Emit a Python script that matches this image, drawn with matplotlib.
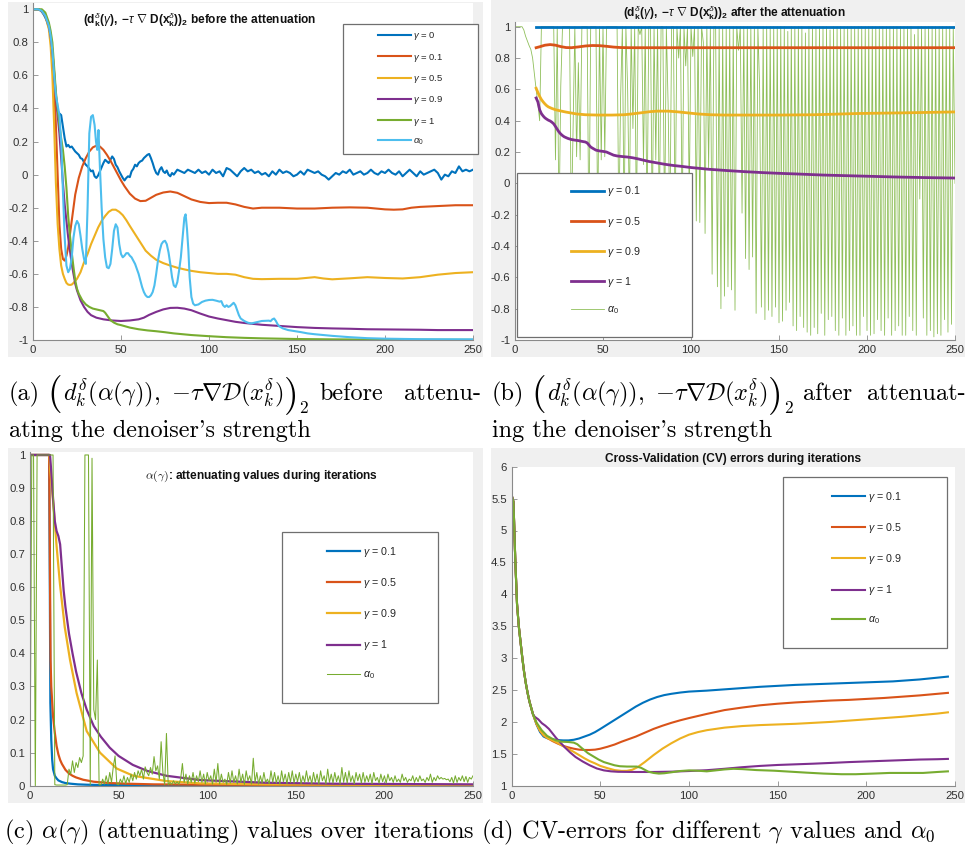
import matplotlib
matplotlib.use('Agg')
import matplotlib.pyplot as plt
from matplotlib.patches import Rectangle

W, H = 967, 850

# ---------------- shared ticks ----------------
xticks = [0, 50, 100, 150, 200, 250]
yticks_ab = [-1, -0.8, -0.6, -0.4, -0.2, 0, 0.2, 0.4, 0.6, 0.8, 1]
yticks_c = [0, 0.1, 0.2, 0.3, 0.4, 0.5, 0.6, 0.7, 0.8, 0.9, 1]
yticks_d = [1, 1.5, 2, 2.5, 3, 3.5, 4, 4.5, 5, 5.5, 6]

# ---------------- panel (a) ----------------
a_labels = [r'$\gamma$ = 0', r'$\gamma$ = 0.1', r'$\gamma$ = 0.5', r'$\gamma$ = 0.9', r'$\gamma$ = 1', r'$\alpha_0$']
a_blue_head = [1, 1, 1, 1, 0.995, 0.985, 0.97, 0.95, 0.925, 0.89,
               0.84, 0.72, 0.57, 0.46, 0.385, 0.37, 0.36, 0.29, 0.22, 0.17,
               0.18, 0.165, 0.17, 0.155, 0.14, 0.13, 0.12, 0.1, 0.095, 0.075,
               0.06, 0.05, 0.035, 0.02, 0.025, -0.01, -0.02, -0.005, 0.02, 0.045,
               0.07, 0.09, 0.08, 0.07, 0.09, 0.11, 0.095, 0.06, 0.045, 0.02,
               0.0, -0.02, -0.035, -0.02, -0.01, -0.015, 0.02, 0.035, 0.06, 0.05,
               0.07, 0.08, 0.085, 0.1, 0.11, 0.12, 0.125, 0.1, 0.07, 0.035,
               0.01, 0.0, 0.03, 0.045, 0.02, 0.01, 0.025, 0.0, -0.01, 0.01]
a_blue_tail = [0.0, 0.03, 0.02, 0.01, 0.03, 0.02, 0.01, 0.03, 0.01, 0.02,
               0.0, 0.03, 0.01, 0.02, -0.01, 0.04, 0.03, 0.01, -0.01, 0.02,
               0.04, 0.02, 0.03, 0.01, 0.02, 0.0, 0.01, -0.01, 0.02, 0.0,
               0.03, 0.01, 0.02, 0.01, -0.01, 0.0, 0.02, 0.0, 0.03, 0.02,
               0.01, 0.02, 0.0, -0.01, -0.03, -0.01, 0.01, 0.0, 0.02, 0.01,
               0.03, 0.0, 0.01, 0.02, 0.0, 0.01, 0.03, 0.01, 0.0, 0.02,
               0.01, 0.03, 0.01, 0.0, 0.02, -0.01, 0.01, 0.03, 0.01, -0.01,
               0.02, 0.0, 0.01, 0.02, 0.03, 0.01, -0.03, 0.0, -0.01, 0.02,
               0.01, 0.05, 0.02, 0.03, 0.02, 0.03]
a_blue_x = list(range(0, 80)) + list(range(80, 251, 2))
a_blue_y = a_blue_head + a_blue_tail

a_red = [(0, 1), (3, 1), (5, 0.99), (7, 0.96), (9, 0.9), (10, 0.84), (11, 0.74), (12, 0.55), (13, 0.3),
         (14, 0.0), (15, -0.3), (16, -0.45), (17, -0.51), (18, -0.52), (19, -0.49), (20, -0.44), (22, -0.28),
         (24, -0.12), (26, -0.02), (28, 0.05), (30, 0.1), (32, 0.14), (34, 0.165), (36, 0.175), (38, 0.17),
         (40, 0.15), (42, 0.12), (44, 0.085), (46, 0.045), (48, 0.005), (50, -0.035), (52, -0.07), (55, -0.115),
         (58, -0.145), (61, -0.16), (64, -0.158), (67, -0.14), (70, -0.122), (74, -0.108), (78, -0.102),
         (82, -0.11), (86, -0.13), (90, -0.15), (95, -0.165), (100, -0.172), (105, -0.17), (110, -0.17),
         (115, -0.18), (120, -0.195), (125, -0.205), (130, -0.2), (140, -0.2), (150, -0.205), (160, -0.205),
         (170, -0.2), (180, -0.198), (190, -0.2), (200, -0.21), (205, -0.212), (210, -0.21), (215, -0.2),
         (220, -0.195), (230, -0.19), (240, -0.185), (250, -0.185)]
a_yellow = [(0, 1), (3, 1), (5, 0.99), (7, 0.96), (9, 0.88), (10, 0.78), (11, 0.6), (12, 0.3), (13, -0.05),
            (14, -0.3), (15, -0.45), (16, -0.55), (17, -0.6), (18, -0.63), (19, -0.655), (20, -0.665),
            (21, -0.667), (22, -0.665), (23, -0.655), (25, -0.63), (27, -0.59), (29, -0.53), (31, -0.48),
            (33, -0.42), (35, -0.37), (37, -0.32), (39, -0.28), (41, -0.25), (43, -0.225), (45, -0.212),
            (47, -0.212), (49, -0.225), (51, -0.245), (53, -0.275), (55, -0.31), (58, -0.36), (61, -0.41),
            (64, -0.46), (67, -0.49), (70, -0.515), (74, -0.535), (78, -0.55), (82, -0.563), (86, -0.573),
            (90, -0.582), (95, -0.59), (100, -0.595), (105, -0.6), (110, -0.6), (115, -0.605), (120, -0.62),
            (125, -0.63), (130, -0.632), (140, -0.63), (150, -0.63), (155, -0.625), (160, -0.62), (165, -0.628),
            (170, -0.633), (180, -0.627), (190, -0.62), (200, -0.625), (210, -0.628), (220, -0.62),
            (230, -0.605), (240, -0.595), (250, -0.59)]
a_purple = [(0, 1), (3, 1), (5, 0.99), (7, 0.96), (9, 0.9), (10, 0.84), (11, 0.75), (12, 0.62), (13, 0.48),
            (14, 0.36), (15, 0.25), (16, 0.1), (17, -0.05), (18, -0.18), (19, -0.28), (20, -0.38), (21, -0.46),
            (22, -0.54), (23, -0.6), (24, -0.66), (25, -0.7), (27, -0.76), (29, -0.8), (31, -0.83), (33, -0.85),
            (36, -0.865), (40, -0.875), (45, -0.882), (50, -0.885), (55, -0.882), (60, -0.875), (63, -0.865),
            (66, -0.848), (70, -0.83), (74, -0.815), (78, -0.806), (82, -0.805), (86, -0.81), (90, -0.82),
            (95, -0.84), (100, -0.858), (105, -0.87), (110, -0.88), (115, -0.89), (120, -0.897), (130, -0.908),
            (140, -0.915), (150, -0.922), (160, -0.927), (170, -0.93), (180, -0.932), (190, -0.935),
            (200, -0.936), (210, -0.937), (220, -0.938), (230, -0.94), (240, -0.94), (250, -0.94)]
a_green = [(0, 1), (5, 1), (7, 0.98), (9, 0.92), (10, 0.87), (11, 0.8), (12, 0.65), (13, 0.5), (14, 0.4),
           (15, 0.3), (16, 0.22), (17, 0.15), (18, 0.05), (19, -0.08), (20, -0.25), (21, -0.37), (22, -0.47),
           (23, -0.56), (24, -0.64), (25, -0.69), (26, -0.72), (28, -0.76), (30, -0.785), (32, -0.8),
           (34, -0.81), (36, -0.815), (38, -0.82), (40, -0.825), (41, -0.835), (42, -0.85), (43, -0.865),
           (44, -0.88), (46, -0.895), (48, -0.905), (50, -0.91), (55, -0.925), (60, -0.935), (65, -0.942),
           (70, -0.947), (75, -0.953), (80, -0.96), (90, -0.97), (100, -0.977), (110, -0.983), (120, -0.987),
           (130, -0.99), (150, -0.994), (170, -0.996), (200, -0.998), (250, -0.999)]
a_cyan = [(0, 1), (3, 1), (5, 0.99), (7, 0.96), (9, 0.9), (10, 0.84), (11, 0.75), (12, 0.6), (13, 0.48),
          (14, 0.42), (15, 0.36), (16, 0.2), (17, -0.1), (18, -0.38), (19, -0.55), (20, -0.59), (21, -0.57),
          (22, -0.5), (23, -0.38), (24, -0.31), (25, -0.28), (26, -0.3), (27, -0.37), (28, -0.45), (29, -0.51),
          (30, -0.54), (31, -0.2), (32, 0.25), (33, 0.35), (34, 0.36), (35, 0.3), (35.8, 0.2), (36.5, 0.15),
          (37.2, 0.27), (38, 0.05), (39, -0.2), (40, -0.39), (41, -0.5), (42, -0.56), (43, -0.566), (44, -0.54),
          (45, -0.45), (46, -0.34), (47, -0.3), (48, -0.32), (49, -0.42), (50, -0.48), (51, -0.5), (52, -0.49),
          (53, -0.475), (54, -0.475), (55, -0.49), (56, -0.5), (57, -0.52), (58, -0.54), (59, -0.57),
          (60, -0.6), (61, -0.64), (62, -0.68), (63, -0.71), (64, -0.73), (65, -0.74), (66, -0.74),
          (67, -0.73), (68, -0.71), (69, -0.67), (70, -0.6), (71, -0.52), (72, -0.46), (73, -0.42),
          (74, -0.405), (75, -0.4), (76, -0.42), (77, -0.47), (78, -0.54), (79, -0.62), (80, -0.67),
          (81, -0.68), (82, -0.65), (83, -0.58), (84, -0.5), (85, -0.38), (86, -0.26), (86.7, -0.24),
          (87.5, -0.33), (88.3, -0.46), (89, -0.62), (90, -0.74), (91, -0.78), (92, -0.79), (94, -0.785),
          (96, -0.77), (98, -0.762), (100, -0.758), (102, -0.757), (104, -0.762), (106, -0.768), (107, -0.765),
          (108, -0.79), (109, -0.8), (110, -0.79), (111, -0.8), (112, -0.795), (113, -0.785), (114, -0.775),
          (115, -0.79), (116, -0.82), (117, -0.85), (118, -0.87), (120, -0.885), (122, -0.895), (124, -0.9),
          (126, -0.895), (128, -0.89), (130, -0.885), (132, -0.884), (134, -0.883), (135, -0.886),
          (136, -0.875), (137, -0.87), (138, -0.885), (139, -0.905), (140, -0.918), (142, -0.93),
          (145, -0.94), (148, -0.945), (152, -0.952), (156, -0.96), (160, -0.965), (170, -0.975),
          (180, -0.983), (190, -0.989), (200, -0.992), (220, -0.995), (250, -0.996)]

# ---------------- panel (b) ----------------
b_labels = [r'$\gamma$ = 0.1', r'$\gamma$ = 0.5', r'$\gamma$ = 0.9', r'$\gamma$ = 1', r'$\alpha_0$']
b_blue = [(12, 0.998), (250, 0.998)]
b_red = [(12, 0.866), (14, 0.872), (17, 0.882), (20, 0.886), (23, 0.882), (26, 0.873), (29, 0.867),
         (32, 0.866), (36, 0.871), (40, 0.877), (44, 0.88), (48, 0.879), (52, 0.875), (56, 0.87), (60, 0.867),
         (65, 0.866), (80, 0.866), (150, 0.866), (250, 0.866)]
b_yellow = [(12, 0.607), (13, 0.58), (14, 0.555), (15, 0.535), (16, 0.52), (17, 0.507), (18, 0.496),
            (19, 0.488), (21, 0.478), (23, 0.47), (26, 0.462), (29, 0.455), (32, 0.449), (35, 0.443),
            (40, 0.438), (47, 0.436), (55, 0.436), (62, 0.438), (67, 0.444), (72, 0.451), (77, 0.458),
            (81, 0.461), (87, 0.461), (92, 0.457), (98, 0.45), (104, 0.443), (111, 0.438), (119, 0.436),
            (130, 0.436), (150, 0.436), (170, 0.438), (195, 0.446), (220, 0.45), (250, 0.456)]
b_purple = [(12, 0.545), (13, 0.52), (14, 0.47), (15, 0.445), (16, 0.43), (17, 0.418), (18, 0.41),
            (19, 0.403), (20, 0.398), (21, 0.39), (22, 0.38), (23, 0.363), (24, 0.345), (25, 0.328),
            (26, 0.315), (27, 0.305), (28, 0.297), (30, 0.287), (32, 0.28), (34, 0.276), (36, 0.273),
            (38, 0.268), (40, 0.264), (41, 0.258), (42, 0.245), (43, 0.232), (44, 0.225), (46, 0.212),
            (48, 0.207), (50, 0.204), (52, 0.2), (54, 0.19), (56, 0.18), (58, 0.175), (61, 0.171),
            (64, 0.168), (67, 0.163), (70, 0.156), (73, 0.148), (76, 0.14), (80, 0.132), (85, 0.122),
            (90, 0.114), (95, 0.108), (100, 0.101), (110, 0.09), (120, 0.082), (130, 0.075), (140, 0.069),
            (150, 0.064), (160, 0.06), (175, 0.053), (195, 0.047), (215, 0.041), (232, 0.037), (250, 0.034)]
b_green_x = list(range(0, 251))
b_green_y = [1, 1, 1, 1, 1, 0.98, 0.94, 0.91, 0.88, 0.855,
             0.80, 0.70, 0.60, 0.51, 0.40, 1, 1, 1, 1, 1,
             1, 1, 1, 0.15, 1, -0.3, 0.62, 1, 1, 1,
             1, 1, -0.3, 0.36, 1, 0.17, 0.77, 0.15, 1, 1,
             1, 1, -0.4, 1, 1, 1, 1, -0.3, 1, 0.15,
             1, 0.17, 1, 1, 1, 1, 1, 1, 1, -0.3,
             0.55, 1, -0.3, 1, 0.6, -0.2, 1, 0.35, 1, -0.3,
             1, 0.95, 1, 0.12, 1, -0.3, 1, 1, -0.3, 1,
             0.15, 1, -0.3, 1, 1, -0.3, 1, 0.5, -0.3, 1,
             1, -0.3, 1, 0.8, 1, -0.3, 1, 0.75, 1, -0.13,
             1, 0.81, 1, -0.24, 1, -0.25, 1, 0.9, -0.32, 1,
             0.1, 1, -0.58, 1, 1, -0.66, 1, -0.8, 1, -0.72,
             1, -0.66, 1, -0.68, 1, -0.81, 1, 0.85, 1, -0.19,
             1, -0.48, 1, -0.55, 1, -0.47, 1, -0.83, 1, 0.6,
             -0.79, 1, -0.87, 1, -0.81, 1, -0.85, 1, -0.79, 1,
             -0.89, 1, -0.88, 1, -0.81, 0.97, -0.76, 1, -0.91, 1,
             -0.94, 1, -0.85, 1, -0.92, 0.96, -0.95, 1, -0.97, 1,
             -0.92, 1, -0.96, 1, -0.83, 1, -0.97, 1, -0.87, 0.98,
             -0.85, 1, -0.94, 1, -0.97, 1, -0.86, 1, -0.97, 1,
             -0.94, 1, -0.91, 1, -0.97, 1, -0.97, 1, -0.85, 1,
             -0.94, 1, -0.97, 1, -0.96, 1, -0.87, 1, -0.94, 1,
             -0.97, 1, -0.86, 1, -0.97, 1, -0.94, 1, -0.91, 1,
             -0.97, 1, -0.97, 1, -0.85, 1, -0.94, 0.95, -0.97, 1,
             -0.1, 1, -0.86, 1, -0.97, 1, -0.94, 1, -0.98, 1,
             -0.96, 1, -0.97, 1, -0.87, 1, -0.95, 1, -0.9, 1,
             0.0]

# ---------------- panel (c) ----------------
c_labels = [r'$\gamma$ = 0.1', r'$\gamma$ = 0.5', r'$\gamma$ = 0.9', r'$\gamma$ = 1', r'$\alpha_0$']
c_blue = [(0, 1), (10.8, 1), (11.2, 0.6), (11.5, 0.25), (12, 0.14), (12.5, 0.08), (13, 0.05), (14, 0.03),
          (15, 0.022), (16, 0.016), (18, 0.011), (20, 0.008), (23, 0.006), (27, 0.004), (32, 0.003),
          (40, 0.002), (60, 0.0015), (100, 0.001), (250, 0.001)]
c_red = [(0, 1), (10.8, 1), (11.2, 0.7), (11.6, 0.38), (12, 0.3), (13, 0.21), (14, 0.16), (15, 0.12),
         (16, 0.095), (17, 0.078), (18, 0.066), (20, 0.048), (22, 0.037), (24, 0.03), (26, 0.025),
         (30, 0.018), (36, 0.012), (45, 0.008), (55, 0.006), (70, 0.004), (100, 0.003), (150, 0.0025),
         (250, 0.002)]
c_yellow = [(0, 1), (11, 1), (11.5, 0.95), (12, 0.92), (13.2, 0.85), (15, 0.725), (16.9, 0.61),
            (19.6, 0.48), (22.6, 0.38), (26.3, 0.28), (32, 0.165), (39.5, 0.1), (48.9, 0.052),
            (58.3, 0.03), (77, 0.014), (96, 0.007), (133, 0.004), (180, 0.003), (250, 0.002)]
c_purple = [(0, 1), (11.3, 1), (12, 0.95), (13, 0.87), (14, 0.8), (15, 0.77), (16, 0.755), (17, 0.73),
            (18, 0.66), (19, 0.59), (20, 0.54), (22, 0.46), (24, 0.4), (26, 0.345), (29, 0.28), (32, 0.23),
            (36, 0.18), (40, 0.148), (45, 0.115), (50, 0.09), (58, 0.063), (66, 0.045), (77, 0.03),
            (96, 0.017), (133, 0.009), (171, 0.006), (250, 0.004)]
c_green_x = list(range(0, 251))
c_green_y = [0, 1, 1, 0, 1, 1, 1, 1, 1, 1,
             1, 1, 1, 1, 0.003, 0.002, 0.002, 0.002, 0.002, 0.002,
             0.002, 0.003, 0.05, 0.035, 0.075, 0.04, 0.07, 0.055, 0.085, 0.07,
             0.09, 1, 1, 1, 0.003, 0.99, 0.23, 0.2, 0.38, 0.003,
             0.003, 0.02, 0.005, 0.03, 0.005, 0.04, 0.01, 0.057, 0.09, 0.005,
             0.003, 0.02, 0.008, 0.03, 0.006, 0.025, 0.01, 0.035, 0.015, 0.04,
             0.02, 0.045, 0.03, 0.05, 0.02, 0.057, 0.04, 0.03, 0.055, 0.035,
             0.088, 0.045, 0.06, 0.02, 0.133, 0.04, 0.003, 0.158, 0.003, 0.01,
             0.004, 0.015, 0.005, 0.012, 0.004, 0.02, 0.067, 0.01, 0.035, 0.005,
             0.03, 0.01, 0.04, 0.008, 0.03, 0.012, 0.045, 0.01, 0.035, 0.005,
             0.04, 0.015, 0.03, 0.005, 0.05, 0.01, 0.067, 0.005, 0.035, 0.01,
             0.02, 0.004, 0.04, 0.008, 0.045, 0.01, 0.03, 0.005, 0.05, 0.01,
             0.035, 0.004, 0.045, 0.015, 0.03, 0.005, 0.083, 0.01, 0.04, 0.005,
             0.03, 0.008, 0.04, 0.01, 0.02, 0.006, 0.045, 0.01, 0.04, 0.008,
             0.03, 0.005, 0.045, 0.012, 0.035, 0.006, 0.04, 0.01, 0.045, 0.008,
             0.035, 0.012, 0.04, 0.006, 0.03, 0.01, 0.045, 0.012, 0.03, 0.006,
             0.04, 0.01, 0.035, 0.005, 0.045, 0.015, 0.03, 0.006, 0.05, 0.01,
             0.035, 0.008, 0.04, 0.012, 0.03, 0.006, 0.055, 0.01, 0.04, 0.008,
             0.045, 0.012, 0.03, 0.006, 0.04, 0.015, 0.035, 0.008, 0.04, 0.01,
             0.03, 0.012, 0.035, 0.006, 0.04, 0.015, 0.025, 0.008, 0.035, 0.012,
             0.03, 0.008, 0.035, 0.015, 0.025, 0.01, 0.03, 0.012, 0.02, 0.01,
             0.035, 0.015, 0.025, 0.01, 0.02, 0.015, 0.03, 0.01, 0.025, 0.012,
             0.03, 0.015, 0.02, 0.01, 0.025, 0.015, 0.035, 0.01, 0.025, 0.015,
             0.03, 0.02, 0.025, 0.02, 0.022, 0.018, 0.02, 0.012, 0.025, 0.008,
             0.03, 0.01, 0.025, 0.015, 0.03, 0.012, 0.028, 0.01, 0.025, 0.02,
             0.03]

# ---------------- panel (d) ----------------
d_labels = [r'$\gamma$ = 0.1', r'$\gamma$ = 0.5', r'$\gamma$ = 0.9', r'$\gamma$ = 1', r'$\alpha_0$']
d_start = [(0, 5.55), (1, 5.45), (2, 4.55), (3, 3.85), (4, 3.5), (5, 3.25), (6, 3.0), (7, 2.78),
           (8, 2.6), (9, 2.45), (10, 2.32), (12, 2.12)]
d_blue = d_start + [(14, 1.96), (16, 1.84), (18, 1.77), (20, 1.745), (23, 1.725), (26, 1.715), (29, 1.71),
                    (32, 1.71), (35, 1.72), (38, 1.74), (41, 1.77), (44, 1.8), (47, 1.84), (50, 1.89),
                    (54, 1.96), (58, 2.03), (62, 2.1), (66, 2.17), (70, 2.24), (74, 2.3), (78, 2.35),
                    (82, 2.39), (86, 2.42), (90, 2.44), (95, 2.46), (100, 2.475), (110, 2.49), (120, 2.51),
                    (140, 2.55), (160, 2.58), (180, 2.6), (200, 2.62), (215, 2.635), (230, 2.665), (246, 2.71)]
d_red = d_start + [(14, 1.97), (16, 1.86), (18, 1.79), (20, 1.75), (23, 1.70), (26, 1.66), (29, 1.625),
                   (32, 1.6), (35, 1.58), (38, 1.565), (41, 1.56), (44, 1.56), (47, 1.565), (50, 1.58),
                   (54, 1.61), (58, 1.645), (62, 1.69), (66, 1.73), (70, 1.77), (75, 1.83), (80, 1.89),
                   (85, 1.94), (90, 1.985), (95, 2.025), (100, 2.06), (110, 2.125), (120, 2.185), (130, 2.225),
                   (140, 2.26), (150, 2.285), (160, 2.305), (170, 2.32), (180, 2.335), (190, 2.345),
                   (200, 2.36), (210, 2.375), (220, 2.395), (230, 2.415), (240, 2.44), (246, 2.455)]
d_yellow = d_start + [(14, 1.97), (16, 1.86), (18, 1.79), (20, 1.75), (23, 1.71), (26, 1.67), (29, 1.62),
                      (32, 1.575), (35, 1.53), (38, 1.48), (41, 1.43), (44, 1.385), (47, 1.35), (50, 1.31),
                      (54, 1.275), (58, 1.245), (62, 1.232), (65, 1.233), (68, 1.25), (71, 1.29), (75, 1.37),
                      (80, 1.48), (85, 1.58), (90, 1.665), (95, 1.74), (100, 1.8), (105, 1.84), (110, 1.87),
                      (120, 1.91), (130, 1.935), (140, 1.95), (150, 1.96), (160, 1.97), (170, 1.985),
                      (180, 2.0), (190, 2.02), (200, 2.04), (210, 2.06), (220, 2.08), (230, 2.105),
                      (240, 2.13), (246, 2.15)]
d_purple = d_start + [(13, 2.08), (15, 2.04), (17, 1.98), (19, 1.94), (21, 1.89), (23, 1.82), (25, 1.75),
                      (27, 1.69), (30, 1.6), (33, 1.52), (36, 1.45), (40, 1.38), (44, 1.32), (48, 1.27),
                      (52, 1.24), (56, 1.225), (60, 1.218), (70, 1.215), (80, 1.215), (90, 1.22), (100, 1.23),
                      (110, 1.243), (120, 1.265), (130, 1.29), (140, 1.31), (150, 1.325), (160, 1.335),
                      (170, 1.345), (180, 1.357), (190, 1.37), (200, 1.38), (210, 1.39), (220, 1.4),
                      (230, 1.41), (240, 1.415), (246, 1.42)]
d_green = d_start + [(14, 1.99), (16.9, 1.87), (20, 1.78), (22.6, 1.74), (25, 1.71), (28, 1.69), (32, 1.685),
                     (35, 1.675), (37, 1.65), (39.5, 1.59), (43, 1.51), (46, 1.46), (49, 1.41), (52, 1.37),
                     (55, 1.345), (58, 1.32), (61, 1.305), (65, 1.3), (68, 1.3), (70.5, 1.3), (73, 1.28),
                     (75, 1.25), (77, 1.22), (80, 1.2), (83, 1.19), (86, 1.195), (90, 1.21), (95, 1.23),
                     (100, 1.24), (105, 1.235), (110, 1.225), (115, 1.24), (120, 1.255), (125, 1.265),
                     (130, 1.26), (138, 1.245), (148, 1.235), (157, 1.22), (166, 1.205), (176, 1.19),
                     (186, 1.18), (194, 1.18), (204, 1.19), (213, 1.2), (225, 1.2), (232, 1.2), (240, 1.215),
                     (246, 1.225)]

# ---------------- style ----------------
C_BLUE, C_RED, C_YEL, C_PUR, C_GRN, C_CYAN = '#0072BD', '#D95319', '#EDB120', '#7E2F8E', '#77AC30', '#4DBEEE'
AX_COL = '#8a8a8a'
LAB_COL = '#303030'
BG = '#f0f0f0'

plt.rcParams['font.family'] = ['Liberation Sans', 'DejaVu Sans']
plt.rcParams['mathtext.fontset'] = 'custom'
plt.rcParams['mathtext.rm'] = 'Liberation Sans'
plt.rcParams['mathtext.it'] = 'Liberation Sans:italic'
plt.rcParams['mathtext.bf'] = 'Liberation Sans:bold'
plt.rcParams['mathtext.sf'] = 'Liberation Sans'
plt.rcParams['axes.unicode_minus'] = False

fig = plt.figure(figsize=(W / 100, H / 100), dpi=100)
renderer = fig.canvas.get_renderer()


def fx(x):
    return x / W


def fy(y):
    return 1 - y / H


def add_bg(x0, y0, x1, y1):
    fig.add_artist(Rectangle((fx(x0), fy(y1)), fx(x1) - fx(x0), fy(y0) - fy(y1),
                             transform=fig.transFigure, facecolor=BG, edgecolor='none', zorder=-10))


def make_ax(x0, y0, x1, y1, ylim, yticks):
    ax = fig.add_axes([fx(x0), fy(y1), fx(x1) - fx(x0), fy(y0) - fy(y1)])
    ax.set_facecolor('white')
    ax.set_xlim(0, 250)
    ax.set_ylim(*ylim)
    ax.set_xticks(xticks)
    ax.set_xticklabels(['%g' % v for v in xticks])
    ax.set_yticks(yticks)
    ax.set_yticklabels(['%g' % v for v in yticks])
    for s in ['top', 'right']:
        ax.spines[s].set_visible(False)
    for s in ['left', 'bottom']:
        ax.spines[s].set_color(AX_COL)
        ax.spines[s].set_linewidth(0.8)
    ax.tick_params(direction='in', length=3.5, width=0.6, color=AX_COL, labelcolor=LAB_COL,
                   labelsize=8.2, pad=3.5)
    return ax


def add_legend(ax, handles, labels, box, anchor, fs, spacing):
    x0, y0, x1, y1 = box
    ax.add_patch(Rectangle((fx(x0), fy(y1)), fx(x1) - fx(x0), fy(y0) - fy(y1), transform=fig.transFigure,
                           facecolor='white', edgecolor='#6f6f6f', linewidth=0.9, zorder=20, clip_on=False))
    leg = ax.legend(handles, labels, loc='upper left', bbox_to_anchor=(fx(anchor[0]), fy(anchor[1])),
                    bbox_transform=fig.transFigure, frameon=False, borderpad=0, borderaxespad=0,
                    fontsize=fs, labelspacing=spacing, handlelength=33 / (fs * 100 / 72),
                    handletextpad=0.25)
    leg.set_zorder(21)
    for t in leg.get_texts():
        t.set_color('#262626')
    return leg


def xy(pairs):
    return [p[0] for p in pairs], [p[1] for p in pairs]


# backgrounds
add_bg(8, 2, 483, 357)
add_bg(491, 0, 965, 357)
add_bg(8, 448, 483, 803)
add_bg(491, 448, 965, 803)

# ---- (a)
axA = make_ax(33, 3, 473, 340, (-1, 1.038), yticks_ab)
lw = 1.5
hA = [axA.plot(a_blue_x, a_blue_y, color=C_BLUE, lw=lw)[0]]
for data, col in [(a_red, C_RED), (a_yellow, C_YEL), (a_purple, C_PUR), (a_green, C_GRN), (a_cyan, C_CYAN)]:
    x, y = xy(data)
    hA.append(axA.plot(x, y, color=col, lw=lw)[0])
add_legend(axA, hA, a_labels, (343, 24, 478, 154), (378, 30.5), 6.8, 0.98)

# ---- (b)
axB = make_ax(515, 21.7, 955, 340, (-1, 1.032), yticks_ab)
gB = axB.plot(b_green_x, b_green_y, color='#8fbf5a', lw=0.6, zorder=1.5)[0]
hB = []
for data, col in [(b_blue, C_BLUE), (b_red, C_RED), (b_yellow, C_YEL), (b_purple, C_PUR)]:
    x, y = xy(data)
    hB.append(axB.plot(x, y, color=col, lw=2.0, zorder=2)[0])
hB.append(gB)
add_legend(axB, hB, b_labels, (516.7, 172.7, 691.7, 337.3), (571, 184.5), 7.7, 1.5)

# ---- (c)
axC = make_ax(30, 452, 473, 785.7, (0, 1.009), yticks_c)
hC = []
for data, col in [(c_blue, C_BLUE), (c_red, C_RED), (c_yellow, C_YEL), (c_purple, C_PUR)]:
    x, y = xy(data)
    hC.append(axC.plot(x, y, color=col, lw=1.6)[0])
hC.append(axC.plot(c_green_x, c_green_y, color=C_GRN, lw=0.75)[0])
add_legend(axC, hC, c_labels, (281.7, 532.3, 438.3, 703.3), (327, 545), 7.7, 1.6)

# ---- (d)
axD = make_ax(511.7, 466.7, 955, 785.7, (1, 6), yticks_d)
hD = []
for data, col in [(d_blue, C_BLUE), (d_red, C_RED), (d_yellow, C_YEL), (d_purple, C_PUR), (d_green, C_GRN)]:
    x, y = xy(data)
    hD.append(axD.plot(x, y, color=col, lw=1.5)[0])
add_legend(axD, hD, d_labels, (783.3, 477.3, 946.7, 648.3), (832, 490), 7.7, 1.6)

# ---- titles
TFS = 8.6
title_ab = r'$\mathbf{(d}_\mathbf{k}^{\delta}\mathbf{(}\gamma\mathbf{),\ {-}}\tau\ \nabla\ \mathbf{D(x}_\mathbf{k}^{\delta}\mathbf{))}_\mathbf{2}$'
fig.text(fx(200), fy(20), title_ab + ' before the attenuation', ha='center', va='center',
         fontsize=TFS, fontweight='bold', color='#111111')
fig.text(fx(734.5), fy(13), title_ab + ' after the attenuation', ha='center', va='center',
         fontsize=TFS, fontweight='bold', color='#111111')
fig.text(fx(261.5), fy(476), r'$\alpha(\gamma)$: attenuating values during iterations', ha='center',
         va='center', fontsize=TFS, fontweight='bold', color='#111111', math_fontfamily='cm')
fig.text(fx(733), fy(459), 'Cross-Validation (CV) errors during iterations', ha='center', va='center',
         fontsize=TFS, fontweight='bold', color='#111111')

# ---- captions
CFS = 17.5
CAP_FAM = ['cmr10', 'DejaVu Serif']


def cap(x, ybase, s, fs=CFS, ha='left'):
    t = fig.text(fx(x), fy(ybase), s, fontsize=fs, family=CAP_FAM, math_fontfamily='cm',
                 va='baseline', ha=ha, color='black')
    return t.get_window_extent(renderer).x1


formula = r'$d_k^{\delta}(\alpha(\gamma)),\ {-}\tau\nabla\mathcal{D}(x_k^{\delta})$'
BIG = 27
for x0, lab, word, tail, xr in [(9, '(a)', 'before', 'attenu-', 481), (492, '(b)', 'after', 'attenuat-', 966)]:
    xc = cap(x0, 400, lab)
    xc = cap(xc + 7, 404, '(', BIG)
    xc = cap(xc + 1, 400, formula)
    xc = cap(xc + 1, 404, ')', BIG)
    xc = cap(xc + 1, 413, '2', 12.5)
    cap(xc + 11, 400, word)
    cap(xr, 400, tail, ha='right')
cap(9, 437, "ating the denoiser's strength")
cap(492, 437, "ing the denoiser's strength")
cap(4, 838, r'(c) $\alpha(\gamma)$ (attenuating) values over iterations')
cap(481, 838, r'(d) CV-errors for different $\gamma$ values and $\alpha_0$')

fig.savefig('out.png', dpi=100, facecolor='white')
